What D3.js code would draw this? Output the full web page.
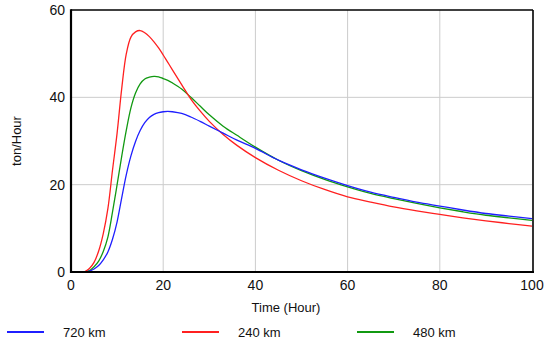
<!DOCTYPE html>
<html>
<head>
<meta charset="utf-8">
<script src="https://cdn.jsdelivr.net/npm/d3@7"></script>
<style>
  body { margin: 0; background: #fff; }
  svg { display: block; font-family: "Liberation Sans", Arial, sans-serif; }
</style>
</head>
<body>
<svg id="chart" width="550" height="344"></svg>
<script>
const times = [0,2,3,4,5,6,7,8,9,10,11,12,13,14,15,16,17,18,19,20,21,22,24,26,28,30,33,36,40,45,50,55,60,65,70,75,80,85,90,95,100];
const km720 = [0,0,0,0.2,0.7,1.5,2.8,4.6,7.5,11.5,17.0,22.3,26.6,29.9,32.4,34.2,35.4,36.1,36.5,36.7,36.8,36.7,36.3,35.5,34.5,33.4,31.8,30.2,28.3,25.6,23.4,21.5,19.8,18.3,17.1,16.0,15.1,14.2,13.4,12.8,12.2];
const km240 = [0,0,0.1,0.8,2.2,4.8,8.8,14.5,23.3,31.8,42.0,50.0,53.8,55.0,55.3,54.8,53.9,52.7,51.3,49.7,48.0,46.3,42.9,39.6,36.9,34.5,31.5,29.0,26.2,23.3,20.9,18.9,17.2,16.0,14.9,14.0,13.2,12.4,11.7,11.1,10.5];
const km480 = [0,0,0.05,0.3,1.2,2.5,4.7,8.0,13.7,20.0,26.5,32.5,37.6,41.0,43.1,44.2,44.6,44.8,44.7,44.3,43.9,43.3,41.9,40.0,38.0,36.0,33.4,31.3,28.6,25.6,23.2,21.2,19.5,18.0,16.8,15.7,14.7,13.8,13.0,12.4,11.8];
const seriesNames = ["720 km", "240 km", "480 km"];
const seriesValues = [km720, km240, km480];
const seriesColors = ["#1f1fff", "#ff2020", "#119911"];
const xTicks = [0,20,40,60,80,100];
const yTicks = [0,20,40,60];
const xTitle = "Time (Hour)";
const yTitle = "ton/Hour";

const svg = d3.select("#chart");
const m = {left: 71, right: 532, top: 10, bottom: 272};
const x = d3.scaleLinear().domain([0,100]).range([m.left, m.right]);
const y = d3.scaleLinear().domain([0,60]).range([m.bottom, m.top]);

// grid
svg.append("g").selectAll("line").data(xTicks.filter(d => d > 0 && d < 100)).join("line")
  .attr("x1", d => x(d)).attr("x2", d => x(d)).attr("y1", m.top).attr("y2", m.bottom)
  .attr("stroke", "#cccccc").attr("stroke-width", 1);
svg.append("g").selectAll("line").data(yTicks.filter(d => d > 0 && d < 60)).join("line")
  .attr("x1", m.left).attr("x2", m.right).attr("y1", d => y(d)).attr("y2", d => y(d))
  .attr("stroke", "#cccccc").attr("stroke-width", 1);

// lines
const line = d3.line().x((d, i) => x(times[i])).y(d => y(Math.max(0, d))).curve(d3.curveCatmullRom.alpha(0.5));
svg.append("defs").append("clipPath").attr("id", "clip").append("rect")
  .attr("x", m.left).attr("y", m.top).attr("width", m.right - m.left).attr("height", m.bottom - m.top - 0.5);
const order = [2, 1, 0];
svg.append("g").attr("clip-path", "url(#clip)").selectAll("path").data(order).join("path")
  .attr("d", i => line(seriesValues[i]))
  .attr("fill", "none").attr("stroke", i => seriesColors[i]).attr("stroke-width", 1.3);

// frame
svg.append("line").attr("x1", m.left).attr("x2", m.right + 1).attr("y1", m.top).attr("y2", m.top)
  .attr("stroke", "#000").attr("stroke-width", 1.6);
svg.append("line").attr("x1", m.right + 1).attr("x2", m.right + 1).attr("y1", m.top).attr("y2", m.bottom)
  .attr("stroke", "#000").attr("stroke-width", 1.6);
svg.append("line").attr("x1", m.left).attr("x2", m.left).attr("y1", m.top - 0.8).attr("y2", m.bottom + 1)
  .attr("stroke", "#000").attr("stroke-width", 2.2);
svg.append("line").attr("x1", m.left - 1).attr("x2", m.right + 2).attr("y1", m.bottom).attr("y2", m.bottom)
  .attr("stroke", "#000").attr("stroke-width", 2.2);

// tick labels
svg.append("g").selectAll("text").data(xTicks).join("text")
  .attr("x", d => x(d)).attr("y", 290).attr("text-anchor", "middle")
  .attr("font-size", 14).attr("fill", "#111").text(d => d);
svg.append("g").selectAll("text").data(yTicks).join("text")
  .attr("x", 65).attr("y", d => y(d)).attr("dy", "0.36em").attr("text-anchor", "end")
  .attr("font-size", 14).attr("fill", "#111").text(d => d);

// axis titles
svg.append("text").attr("x", 286).attr("y", 312).attr("text-anchor", "middle")
  .attr("font-size", 13).attr("fill", "#111").text(xTitle);
svg.append("text").attr("transform", "translate(21,141) rotate(-90)").attr("text-anchor", "middle")
  .attr("font-size", 13).attr("fill", "#111").text(yTitle);

// legend
const lg = svg.append("g").selectAll("g").data([0,1,2]).join("g")
  .attr("transform", i => `translate(${7 + i * 175},332)`);
lg.append("line").attr("x1", 0).attr("x2", 37).attr("y1", 0).attr("y2", 0)
  .attr("stroke", i => seriesColors[i]).attr("stroke-width", 2);
lg.append("text").attr("x", 56).attr("y", 0).attr("dy", "0.36em")
  .attr("font-size", 13).attr("fill", "#111").text(i => seriesNames[i]);
</script>
</body>
</html>
